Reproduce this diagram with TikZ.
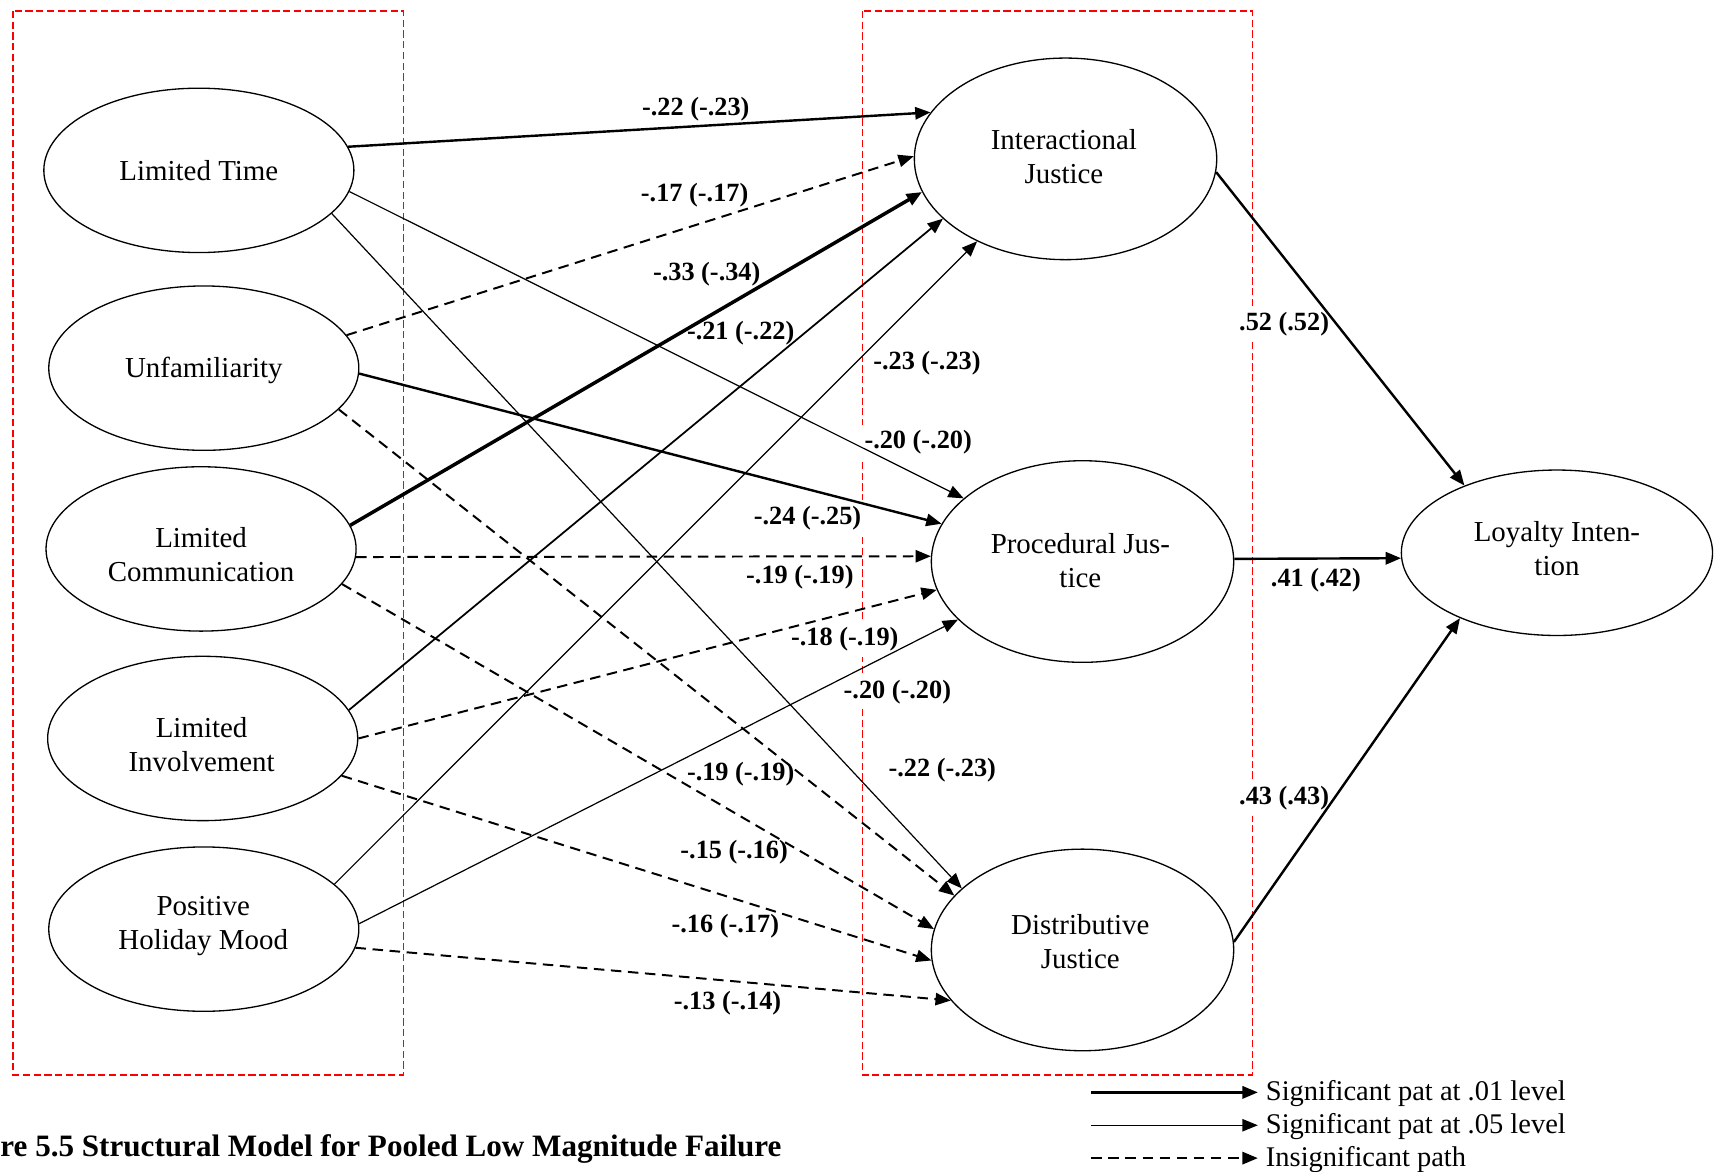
\documentclass[tikz,border=0pt]{standalone}
\usepackage{fontspec}
\setmainfont{Liberation Serif}
\usetikzlibrary{arrows.meta,shapes.geometric}
\begin{document}
\begin{tikzpicture}[x=0.5pt,y=-0.5pt,
  latent/.style={draw,ellipse,line width=0.6pt,inner sep=0pt},
  small/.style={latent,minimum width=141.5pt,minimum height=75pt},
  big/.style={latent,minimum width=138pt,minimum height=92pt},
  ctext/.style={align=center,inner sep=0pt,font=\fontsize{13.2}{15.5}\selectfont},
  tip/.style={-{Triangle[length=7pt,width=5.6pt]}},
  thinpath/.style={tip,line width=0.55pt},
  medpath/.style={tip,line width=0.8pt},
  thickpath/.style={tip,line width=1.1pt},
  vthickpath/.style={tip,line width=1.6pt},
  dashpath/.style={tip,line width=0.9pt,dash pattern=on 4.8pt off 3pt},
  redbox/.style={red,line width=0.6pt,dash pattern=on 3.3pt off 1.6pt},
  coef/.style={fill=white,inner sep=2.5pt,font=\fontsize{12}{14}\selectfont\bfseries},
  legtext/.style={anchor=west,inner sep=3.5pt,font=\fontsize{13}{15}\selectfont}
]
\useasboundingbox (0,0) rectangle (1568,1069);

% construct groups
\draw[redbox] (12,10) rectangle (368,981);
\draw[redbox] (787,10) rectangle (1143,981);

% exogenous constructs
\node[small] (LT)  at (181.5,155.5) {};
\node[small] (UF)  at (186,336)     {};
\node[small] (LC)  at (183.5,501)   {};
\node[small] (LI)  at (185,674)     {};
\node[small] (PHM) at (186,848)     {};
\node[ctext] (LTt)  at (181.5,156)   {Limited Time};
\node[ctext] (UFt)  at (186,338.5)   {Unfamiliarity};
\node[ctext] (LCt)  at (183.5,506.5) {Limited\\Communication};
\node[ctext] (LIt)  at (184,679.5)   {Limited\\Involvement};
\node[ctext] (PHMt) at (185.5,845.5) {Positive\\Holiday Mood};

% justice constructs and outcome
\node[big] (IJ) at (972.5,145) {};
\node[big] (PJ) at (988,512.5) {};
\node[big] (DJ) at (988,867)   {};
\node[small,minimum width=142pt,minimum height=75.5pt] (LoyI) at (1421,504.5) {};
\node[ctext] (IJt)   at (971,143)    {Interactional\\Justice};
\node[ctext] (PJt)   at (986,511.5)  {Procedural Jus-\\tice};
\node[ctext] (DJt)   at (986,859)    {Distributive\\Justice};
\node[ctext] (LoyIt) at (1421,501)   {Loyalty Inten-\\tion};

% path coefficients
\node[coef] (c1)  at (635,99.5)   {-.22 (-.23)};
\node[coef] (c2)  at (634,178.5)  {-.17 (-.17)};
\node[coef] (c3)  at (645,250.5)  {-.33 (-.34)};
\node[coef] (c4)  at (676,304.5)  {-.21 (-.22)};
\node[coef] (c5)  at (846,331.5)  {-.23 (-.23)};
\node[coef] (c6)  at (838,403.5)  {-.20 (-.20)};
\node[coef] (c7)  at (737,472.5)  {-.24 (-.25)};
\node[coef] (c8)  at (730,526.5)  {-.19 (-.19)};
\node[coef] (c9)  at (771,583.5)  {-.18 (-.19)};
\node[coef] (c10) at (819,631.5)  {-.20 (-.20)};
\node[coef] (c11) at (860,702.5)  {-.22 (-.23)};
\node[coef] (c12) at (676,706.5)  {-.19 (-.19)};
\node[coef] (c13) at (670,777.5)  {-.15 (-.16)};
\node[coef] (c14) at (662,845.5)  {-.16 (-.17)};
\node[coef] (c15) at (664,915.5)  {-.13 (-.14)};
\node[coef] (c16) at (1172,295.5) {.52 (.52)};
\node[coef] (c17) at (1201,529.5) {.41 (.42)};
\node[coef] (c18) at (1172,728.5) {.43 (.43)};

% paths to interactional justice
\draw[thickpath]  (LT.9)    -- (IJ.161);
\draw[dashpath]   (UF.13.5) -- (IJ.179);
\draw[vthickpath] (LC.9.5)  -- (IJ.193);
\draw[medpath]    (LI.11)   -- (IJ.206);
\draw[thinpath]   (PHM.19)  -- (IJ.223);
% paths to procedural justice
\draw[thinpath]   (LT.352)   -- (PJ.152.6);
\draw[thickpath]  (UF.358)   -- (PJ.165);
\draw[dashpath]   (LC.357.4) -- (PJ.178.4);
\draw[dashpath]   (LI.0)     -- (PJ.191.7);
\draw[thinpath]   (PHM.2.8)  -- (PJ.205);
% paths to distributive justice
\draw[thinpath]   (LT.342.5)  -- (DJ.153.7);
\draw[dashpath]   (UF.343.3)  -- (DJ.157.4);
\draw[dashpath]   (LC.346.2)  -- (DJ.172);
\draw[dashpath]   (LI.345.9)  -- (DJ.184.6);
\draw[dashpath]   (PHM.353.1) -- (DJ.201);
% paths to loyalty intention
\draw[thickpath] (IJ.355.1) -- (LoyI.144.4);
\draw[thickpath] (PJ.1.2)   -- (LoyI.182);
\draw[thickpath] (DJ.3.7)   -- (LoyI.214.7);

% legend
\coordinate (k1) at (996,997);
\coordinate (k2) at (996,1027);
\coordinate (k3) at (996,1057);
\node[legtext] (t1) at (1148,998)  {Significant pat at .01 level};
\node[legtext] (t2) at (1148,1028) {Significant pat at .05 level};
\node[legtext] (t3) at (1148,1058) {Insignificant path};
\draw[thickpath] (k1) -- (k1 -| t1.west);
\draw[thinpath]  (k2) -- (k2 -| t2.west);
\draw[dashpath]  (k3) -- (k3 -| t3.west);

% caption
\node[anchor=west,inner sep=0pt,font=\fontsize{14.2}{16}\selectfont\bfseries] (cap) at (0,1048.5)
  {re 5.5 Structural Model for Pooled Low Magnitude Failure};
\end{tikzpicture}
\end{document}
